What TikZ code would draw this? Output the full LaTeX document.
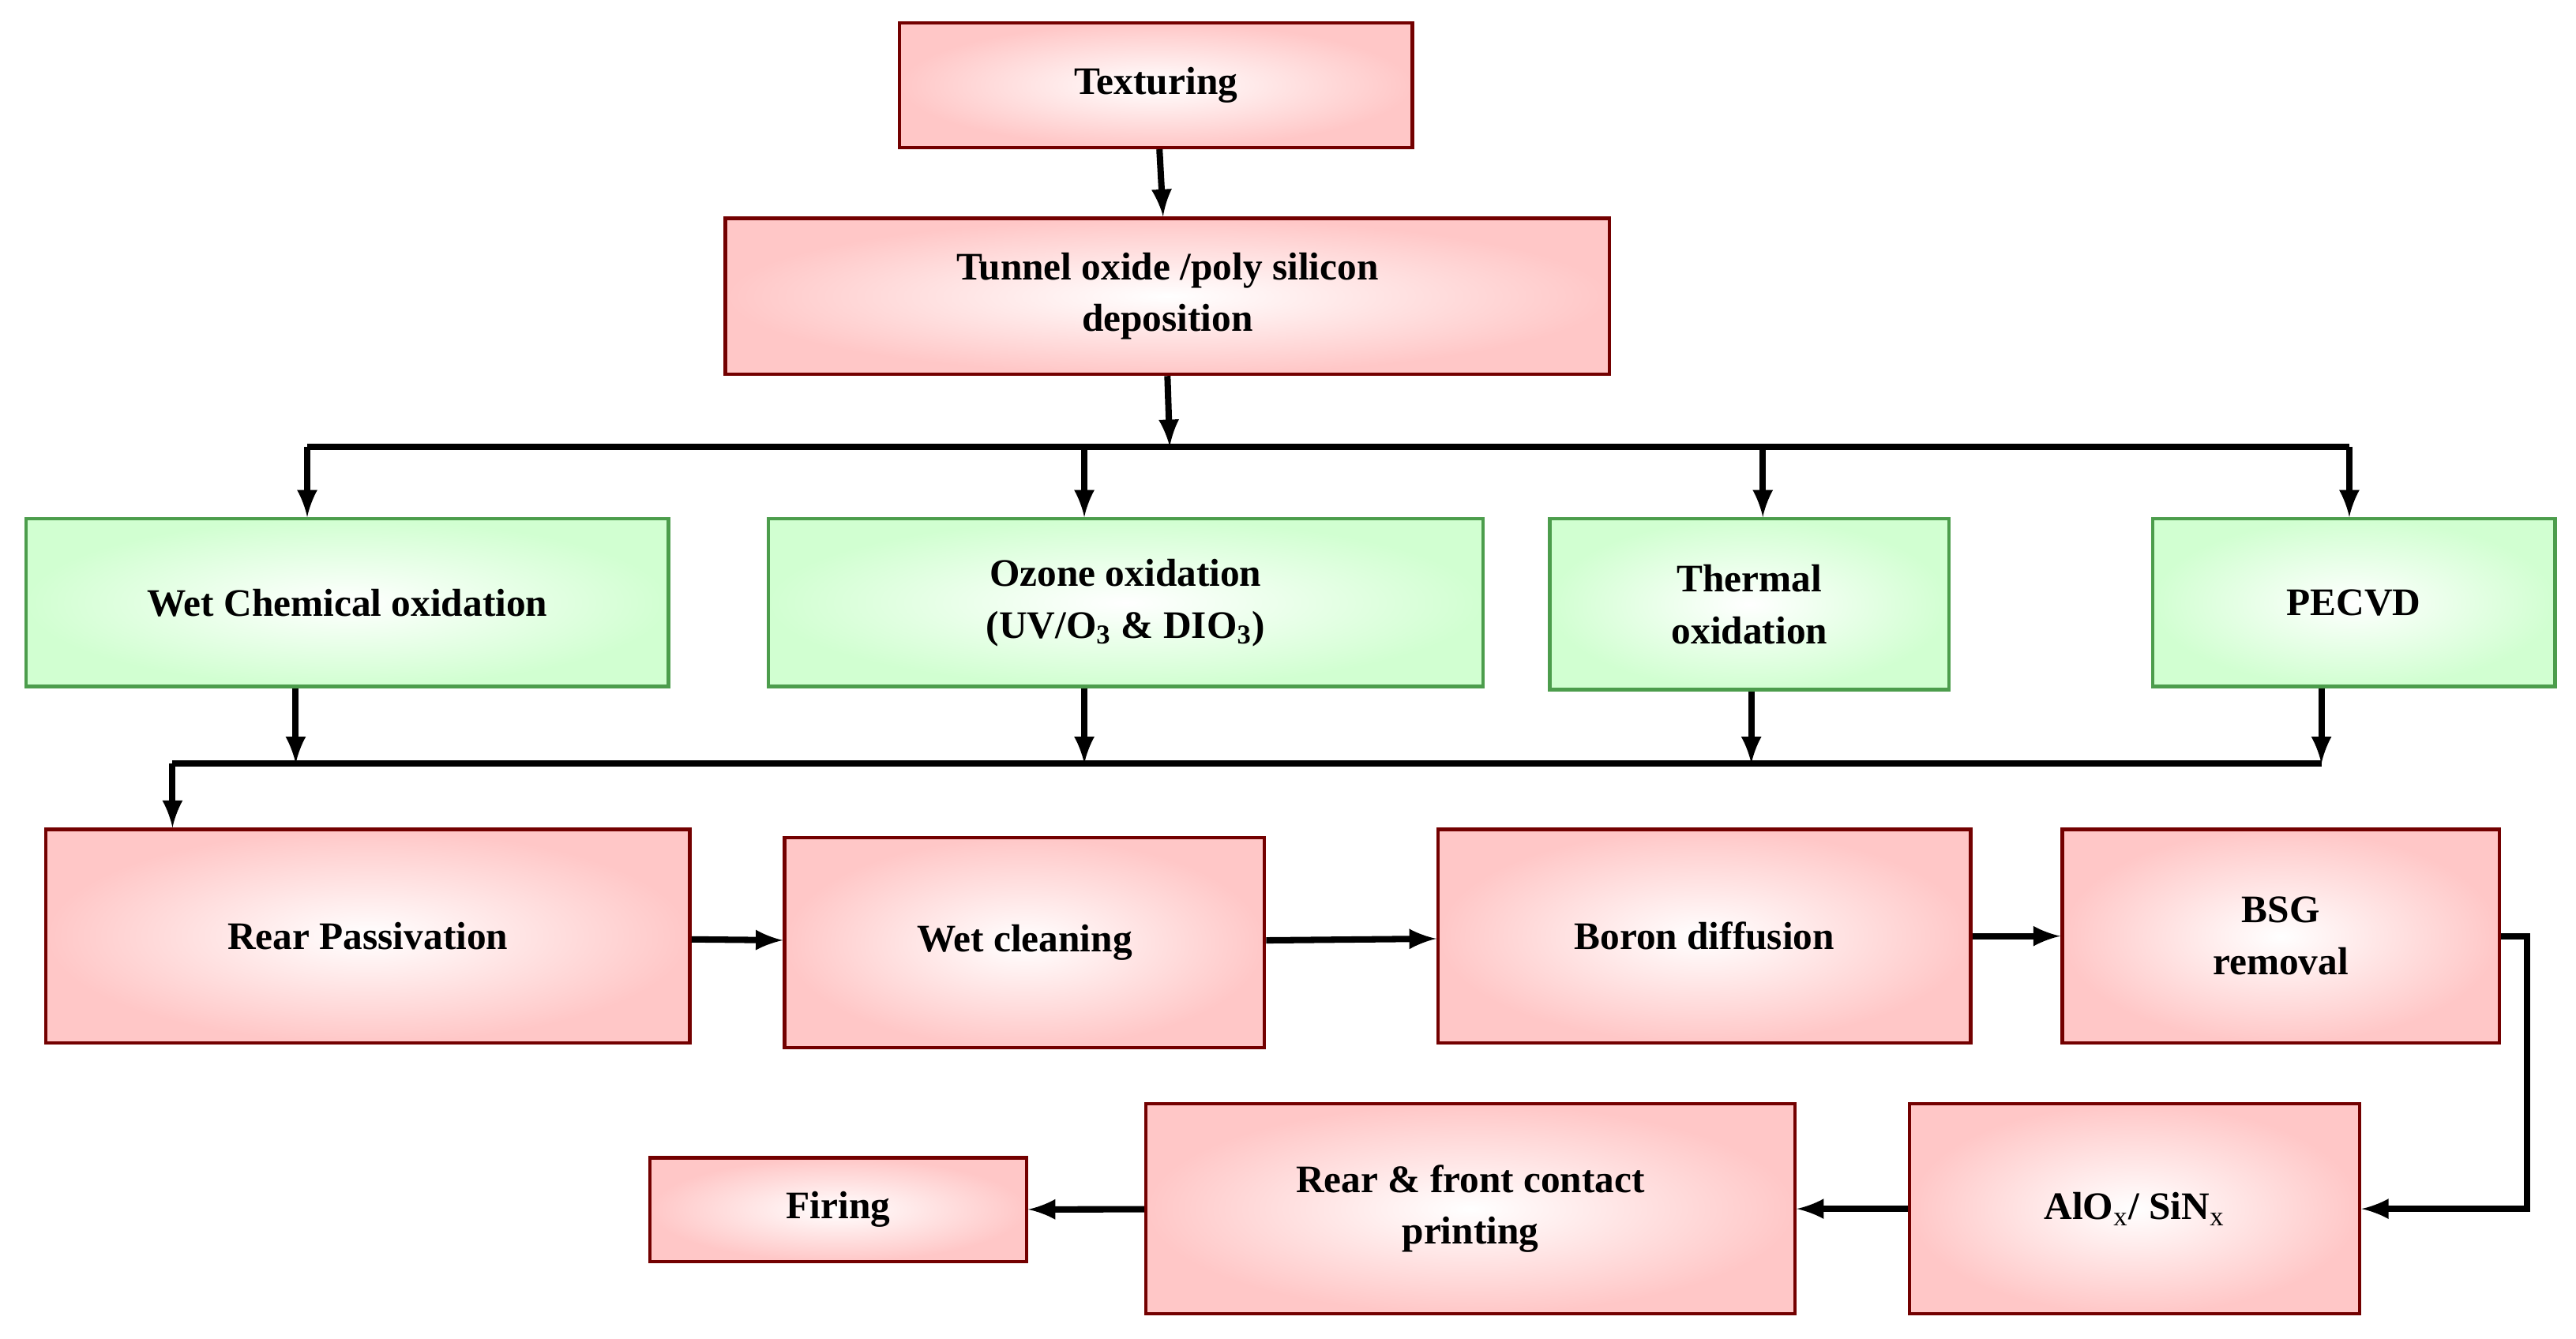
\documentclass[tikz,border=0pt]{standalone}
\usepackage{fontspec}
\setmainfont{Liberation Serif}
\usetikzlibrary{calc}
\tikzset{
  procbox/.style={draw=red!45!black, line width=1.2pt, inner color=white, outer color=red!22,
    align=center, font=\fontsize{13.5}{18}\selectfont\bfseries},
  choicebox/.style={draw=green!45!black!70, line width=1.2pt, inner color=white, outer color=green!18,
    align=center, font=\fontsize{13.5}{18}\selectfont\bfseries},
  flow/.style={line width=2.2pt, -latex},
  bus/.style={line width=2.2pt}
}
% box from corners given in pixel units (x1,y1,x2,y2), y downwards
\newcommand{\pbox}[7]{\node[#1, minimum width={(#5-#3)*0.02cm}, minimum height={(#6-#4)*0.02cm}]
  (#2) at ({(#3+#5)*0.01},{(815-(#4+#6)/2)*0.02}) {#7};}
\begin{document}
\begin{tikzpicture}
\useasboundingbox (0,0) rectangle (31.36,16.3);
\pbox{procbox}{tex}{548}{14}{860}{90}{Texturing}
\pbox{procbox}{tun}{442}{133}{980}{228}{Tunnel oxide /poly silicon\\deposition}
\pbox{choicebox}{wet}{16}{316}{407}{418}{Wet Chemical oxidation}
\pbox{choicebox}{ozo}{468}{316}{903}{418}{Ozone oxidation\\(UV/O$_\mathbf{3}$ \& DIO$_\mathbf{3}$)}
\pbox{choicebox}{the}{944}{316}{1187}{420}{Thermal\\oxidation}
\pbox{choicebox}{pec}{1311}{316}{1556}{418}{PECVD}
\pbox{procbox}{rea}{28}{505}{420}{635}{Rear Passivation}
\pbox{procbox}{wcl}{478}{510}{770}{638}{Wet cleaning}
\pbox{procbox}{bor}{876}{505}{1200}{635}{Boron diffusion}
\pbox{procbox}{bsg}{1256}{505}{1522}{635}{BSG\\removal}
\pbox{procbox}{alo}{1163}{672}{1437}{800}{AlO$_\mathrm{x}$/ SiN$_\mathrm{x}$}
\pbox{procbox}{rfc}{698}{672}{1093}{800}{Rear \& front contact\\printing}
\pbox{procbox}{fir}{396}{705}{625}{768}{Firing}
% top part
\coordinate (b1) at (14.24,10.86);
\draw[flow] (tex) -- (tun);
\draw[flow] (tun.south) -- (b1);
\draw[bus] (3.74,10.86) -- (28.6,10.86);
\foreach \n/\x in {wet/3.74, ozo/13.2, the/21.46, pec/28.6}
  \draw[flow] (\x,10.86) -- (\x,10.86 |- \n.north);
% lower bus
\foreach \n/\x in {wet/3.6, ozo/13.2, the/21.32, pec/28.26}
  \draw[flow] (\x,0 |- \n.south) -- (\x,7.0);
\draw[bus] (2.1,7.0) -- (28.26,7.0);
\coordinate (b2) at (2.1,7.0);
\draw[flow] (b2) -- (2.1,0 |- rea.north);
% process chain
\draw[flow] (rea) -- (wcl);
\draw[flow] (wcl) -- (bor);
\draw[flow] (bor) -- (bsg);
\draw[flow] (bsg.east) -- ++(0.32,0) |- (alo.east);
\draw[flow] (alo) -- (rfc);
\draw[flow] (rfc) -- (fir);
\end{tikzpicture}
\end{document}
